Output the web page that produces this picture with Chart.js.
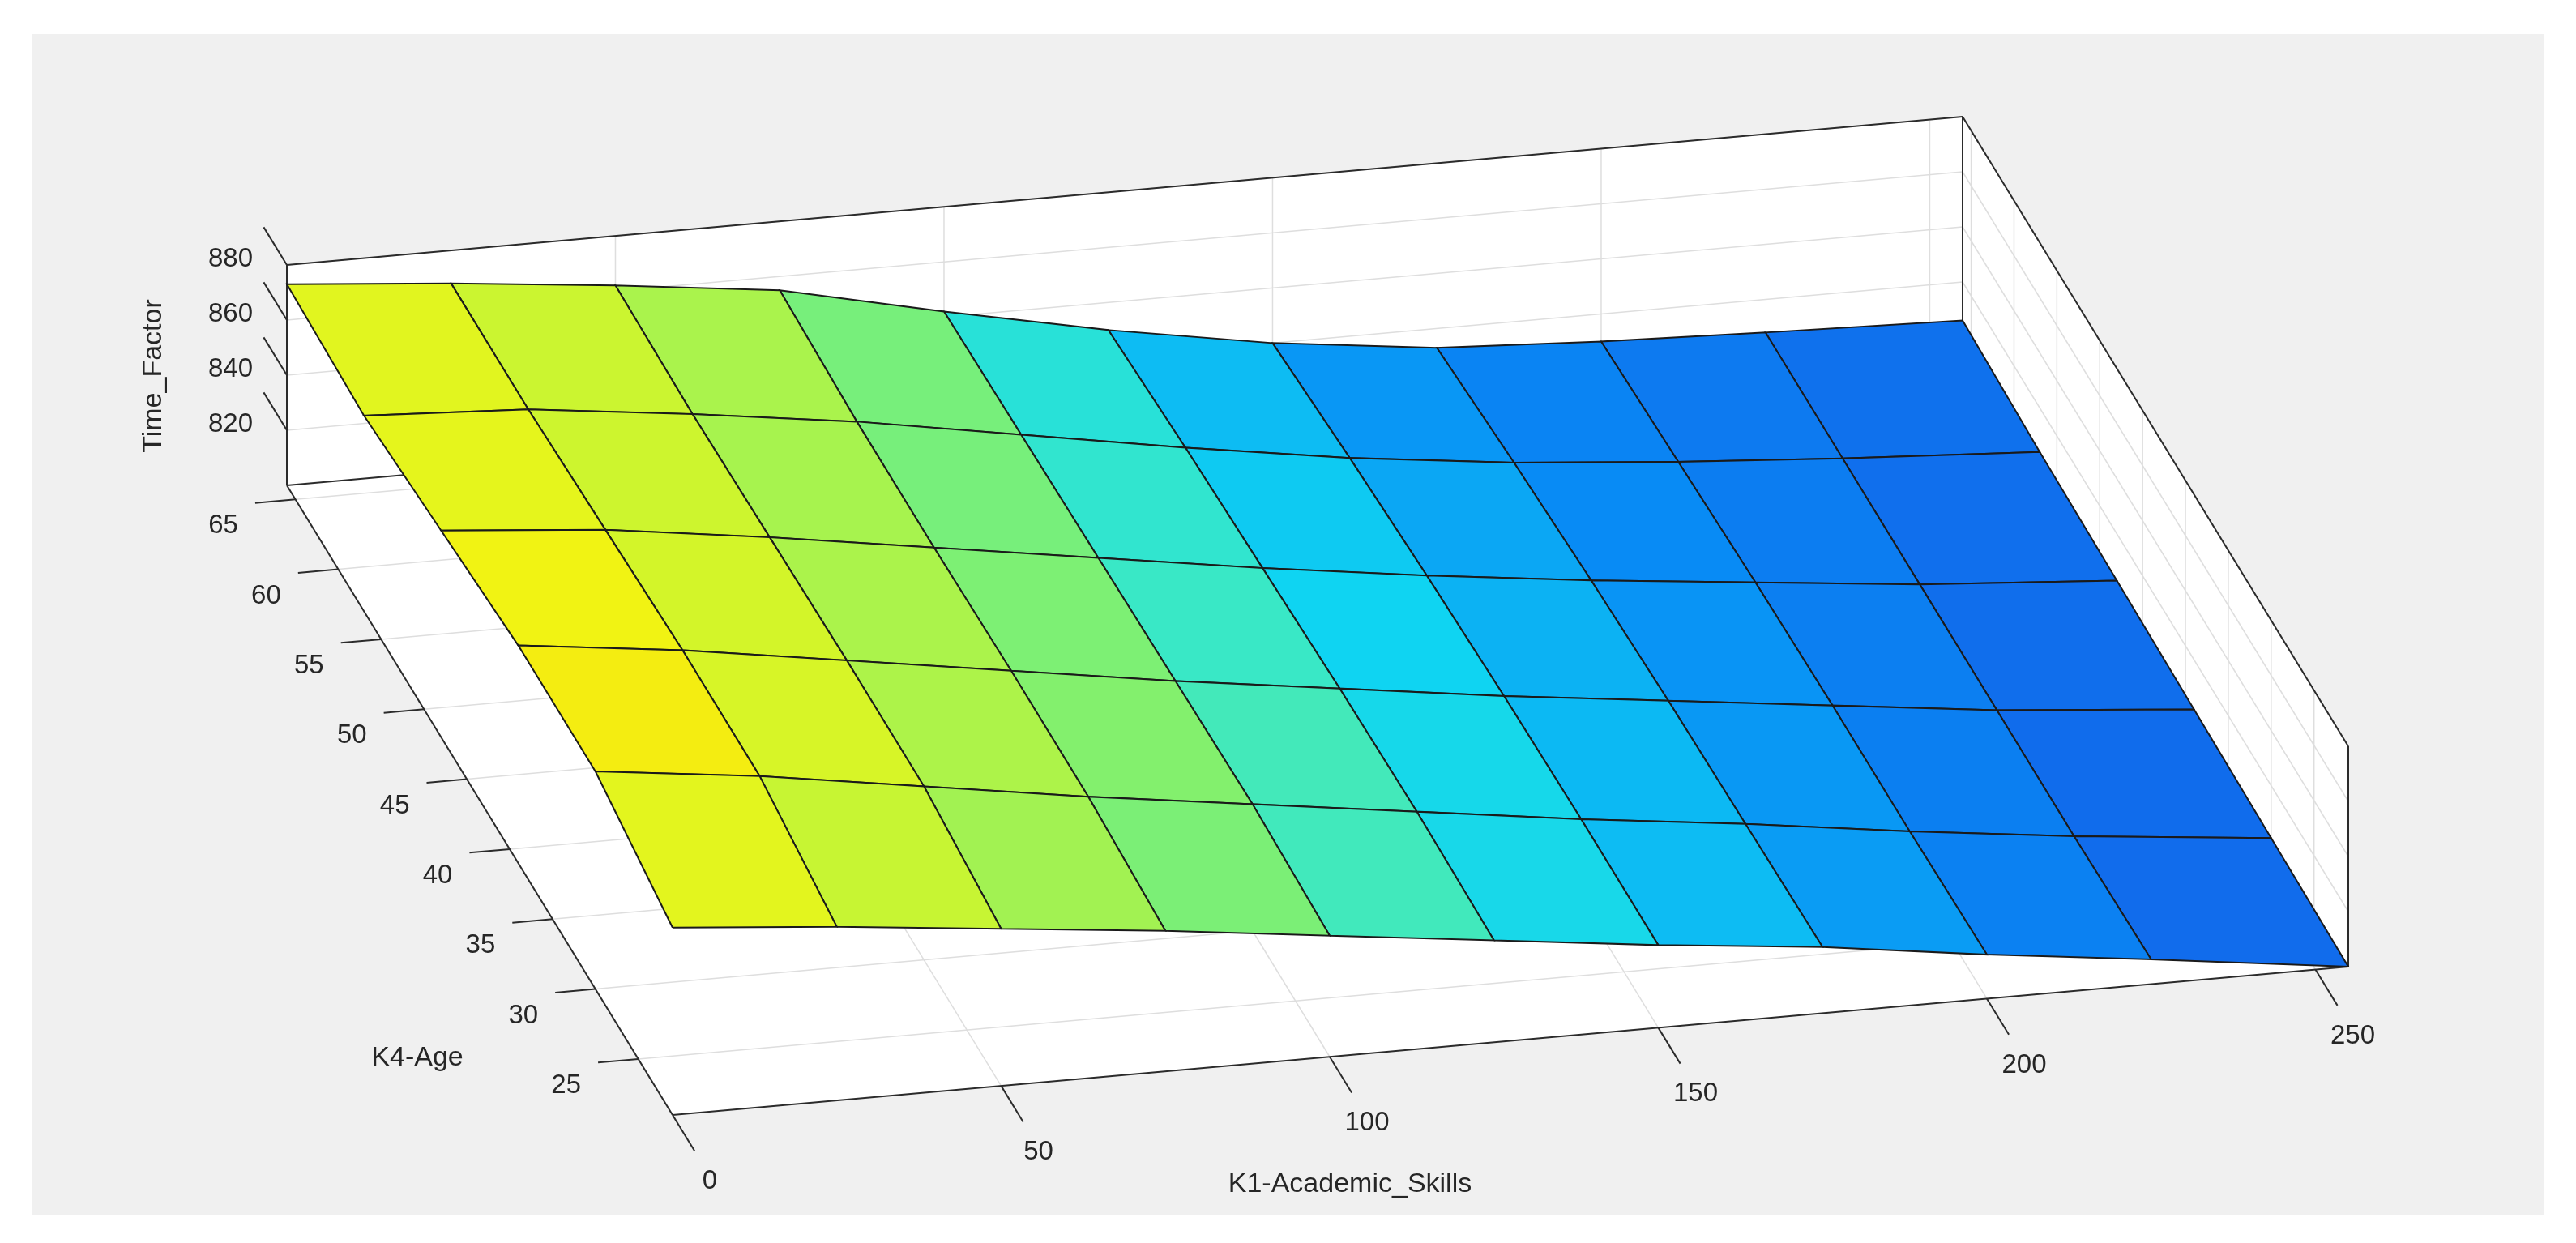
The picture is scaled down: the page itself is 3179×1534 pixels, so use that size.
<!DOCTYPE html>
<html>
<head>
<meta charset="utf-8">
<script src="https://cdn.jsdelivr.net/npm/chart.js@4/dist/chart.umd.min.js"></script>
<style>
  body { margin: 0; background: #ffffff; }
  #wrap { width: 3179px; height: 1534px; }
</style>
</head>
<body>
<div id="wrap"><canvas id="surf" width="3179" height="1534"></canvas></div>
<script>
// grid
const k1Values = [0, 25, 50, 75, 100, 125, 150, 175, 200, 225, 255];
const k4Values = [21, 30, 39, 48, 57, 66];
// Time_Factor, one row per K4 value (front to back)
const zRow21 = [868, 863, 857, 851, 844, 837, 830, 824, 816, 809, 800];
const zRow30 = [879, 872, 863, 854, 846, 838, 830, 823, 815, 808, 801];
const zRow39 = [879, 872, 863, 854, 845, 837, 829, 822, 815, 808, 802];
const zRow48 = [875, 870, 862, 853, 844, 835, 827, 820, 814, 808, 803];
const zRow57 = [871, 868, 861, 853, 843, 833, 824, 817, 812, 808, 804];
const zRow66 = [873, 868, 862, 855, 842, 830, 820, 813, 810, 808, 806];
const zRows = [zRow21, zRow30, zRow39, zRow48, zRow57, zRow66];

const k1Ticks = [0, 50, 100, 150, 200, 250];
const k4Ticks = [25, 30, 35, 40, 45, 50, 55, 60, 65];
const zTicks = [820, 840, 860, 880];
const k1Lim = [0, 255], k4Lim = [21, 66], zLim = [800, 880];

// fixed view (orthographic, like the MATLAB camera)
const origin = [830, 1376], dirK1 = [2068, -183], dirK4 = [-476, -777], dirZ = [0, -272];
function proj(k1, k4, z) {
    const u = (k1 - k1Lim[0]) / (k1Lim[1] - k1Lim[0]);
    const v = (k4 - k4Lim[0]) / (k4Lim[1] - k4Lim[0]);
    const w = (z - zLim[0]) / (zLim[1] - zLim[0]);
    return {
        x: origin[0] + u * dirK1[0] + v * dirK4[0] + w * dirZ[0],
        y: origin[1] + u * dirK1[1] + v * dirK4[1] + w * dirZ[1]
    };
}

const stops = [
    [0, [20, 95, 232]], [0.2, [8, 140, 245]], [0.4, [15, 212, 242]], [0.5, [55, 232, 200]],
    [0.62, [130, 240, 110]], [0.8, [200, 245, 50]], [0.92, [240, 245, 20]], [1, [255, 218, 10]]
];
function colorFor(z) {
    let t = Math.min(1, Math.max(0, (z - zLim[0]) / (zLim[1] - zLim[0])));
    for (let i = 1; i < stops.length; i++) {
        if (t <= stops[i][0]) {
            const a = stops[i - 1], b = stops[i];
            const f = (t - a[0]) / (b[0] - a[0]);
            const c = a[1].map((x, k) => Math.round(x + (b[1][k] - x) * f));
            return `rgb(${c[0]},${c[1]},${c[2]})`;
        }
    }
    return 'rgb(255,218,10)';
}

// one filled quad per grid cell
const datasets = [];
for (let i = 0; i < k4Values.length - 1; i++) {
    for (let j = 0; j < k1Values.length - 1; j++) {
        const zs = [zRows[i][j], zRows[i][j + 1], zRows[i + 1][j + 1], zRows[i + 1][j]];
        const pts = [
            proj(k1Values[j], k4Values[i], zs[0]),
            proj(k1Values[j + 1], k4Values[i], zs[1]),
            proj(k1Values[j + 1], k4Values[i + 1], zs[2]),
            proj(k1Values[j], k4Values[i + 1], zs[3])
        ];
        pts.push(pts[0]);
        datasets.push({
            data: pts,
            showLine: true,
            fill: 'shape',
            backgroundColor: colorFor((zs[0] + zs[1] + zs[2] + zs[3]) / 4),
            borderColor: '#1a1a1a',
            borderWidth: 2,
            pointRadius: 0,
            order: i
        });
    }
}

// axes box, grid, ticks and labels in the same projection
const axes3d = {
    id: 'axes3d',
    beforeDraw(chart) {
        const ctx = chart.ctx, sx = chart.scales.x, sy = chart.scales.y;
        const P = (a, b, c) => { const p = proj(a, b, c); return [sx.getPixelForValue(p.x), sy.getPixelForValue(p.y)]; };
        const line = (p, q, color, w) => {
            ctx.strokeStyle = color; ctx.lineWidth = w;
            ctx.beginPath(); ctx.moveTo(p[0], p[1]); ctx.lineTo(q[0], q[1]); ctx.stroke();
        };
        const poly = (ps, color) => {
            ctx.fillStyle = color; ctx.beginPath();
            ps.forEach((p, i) => i ? ctx.lineTo(p[0], p[1]) : ctx.moveTo(p[0], p[1]));
            ctx.closePath(); ctx.fill();
        };
        ctx.save();
        ctx.fillStyle = '#f0f0f0';
        ctx.fillRect(40, 42, 3100, 1457);
        const [a0, a1] = k1Lim, [b0, b1] = k4Lim, [c0, c1] = zLim;
        // white walls
        poly([P(a0, b0, c0), P(a1, b0, c0), P(a1, b1, c0), P(a0, b1, c0)], '#ffffff');
        poly([P(a0, b1, c0), P(a1, b1, c0), P(a1, b1, c1), P(a0, b1, c1)], '#ffffff');
        poly([P(a1, b0, c0), P(a1, b1, c0), P(a1, b1, c1), P(a1, b0, c1)], '#ffffff');
        const grid = '#dedede';
        k1Ticks.forEach(t => {
            line(P(t, b0, c0), P(t, b1, c0), grid, 1.5);
            line(P(t, b1, c0), P(t, b1, c1), grid, 1.5);
        });
        k4Ticks.forEach(t => {
            line(P(a0, t, c0), P(a1, t, c0), grid, 1.5);
            line(P(a1, t, c0), P(a1, t, c1), grid, 1.5);
        });
        zTicks.forEach(t => {
            line(P(a0, b1, t), P(a1, b1, t), grid, 1.5);
            line(P(a1, b1, t), P(a1, b0, t), grid, 1.5);
        });
        const edge = '#2b2b2b';
        line(P(a0, b0, c0), P(a1, b0, c0), edge, 2);
        line(P(a0, b0, c0), P(a0, b1, c0), edge, 2);
        line(P(a0, b1, c0), P(a1, b1, c0), edge, 2);
        line(P(a0, b1, c0), P(a0, b1, c1), edge, 2);
        line(P(a0, b1, c1), P(a1, b1, c1), edge, 2);
        line(P(a1, b1, c0), P(a1, b1, c1), edge, 2);
        line(P(a1, b1, c1), P(a1, b0, c1), edge, 2);
        line(P(a1, b0, c0), P(a1, b0, c1), edge, 2);

        ctx.fillStyle = '#262626';
        ctx.font = '33px "Liberation Sans", Arial, sans-serif';
        ctx.textAlign = 'center'; ctx.textBaseline = 'middle';
        const span1 = a1 - a0, span4 = b1 - b0;
        k1Ticks.forEach(t => {
            const p = P(t, b0, c0), q = P(t, b0 - 0.057 * span4, c0);
            line(p, q, edge, 2);
            ctx.fillText(String(t), p[0] + 46, p[1] + 82);
        });
        k4Ticks.forEach(t => {
            const p = P(a0, t, c0), q = P(a0 - 0.024 * span1, t, c0);
            line(p, q, edge, 2);
            ctx.fillText(String(t), p[0] - 89, p[1] + 33);
        });
        ctx.textAlign = 'right';
        zTicks.forEach(t => {
            const p = P(a0, b1, t), q = P(a0, b1 + 0.06 * span4, t);
            line(p, q, edge, 2);
            ctx.fillText(String(t), p[0] - 42, p[1] - 7);
        });
        ctx.font = '34px "Liberation Sans", Arial, sans-serif';
        ctx.textAlign = 'center';
        ctx.fillText('K1-Academic_Skills', 1666, 1462);
        ctx.fillText('K4-Age', 515, 1306);
        ctx.translate(190, 464); ctx.rotate(-Math.PI / 2);
        ctx.fillText('Time_Factor', 0, 0);
        ctx.restore();
    }
};

new Chart(document.getElementById('surf'), {
    type: 'scatter',
    data: { datasets },
    options: {
        responsive: false,
        devicePixelRatio: 1,
        animation: false,
        events: [],
        layout: { padding: 0 },
        scales: {
            x: { type: 'linear', min: 0, max: 3179, display: false },
            y: { type: 'linear', min: 0, max: 1534, reverse: true, display: false }
        },
        plugins: {
            legend: { display: false },
            tooltip: { enabled: false },
            filler: { drawTime: 'beforeDatasetDraw' }
        }
    },
    plugins: [axes3d]
});
</script>
</body>
</html>
